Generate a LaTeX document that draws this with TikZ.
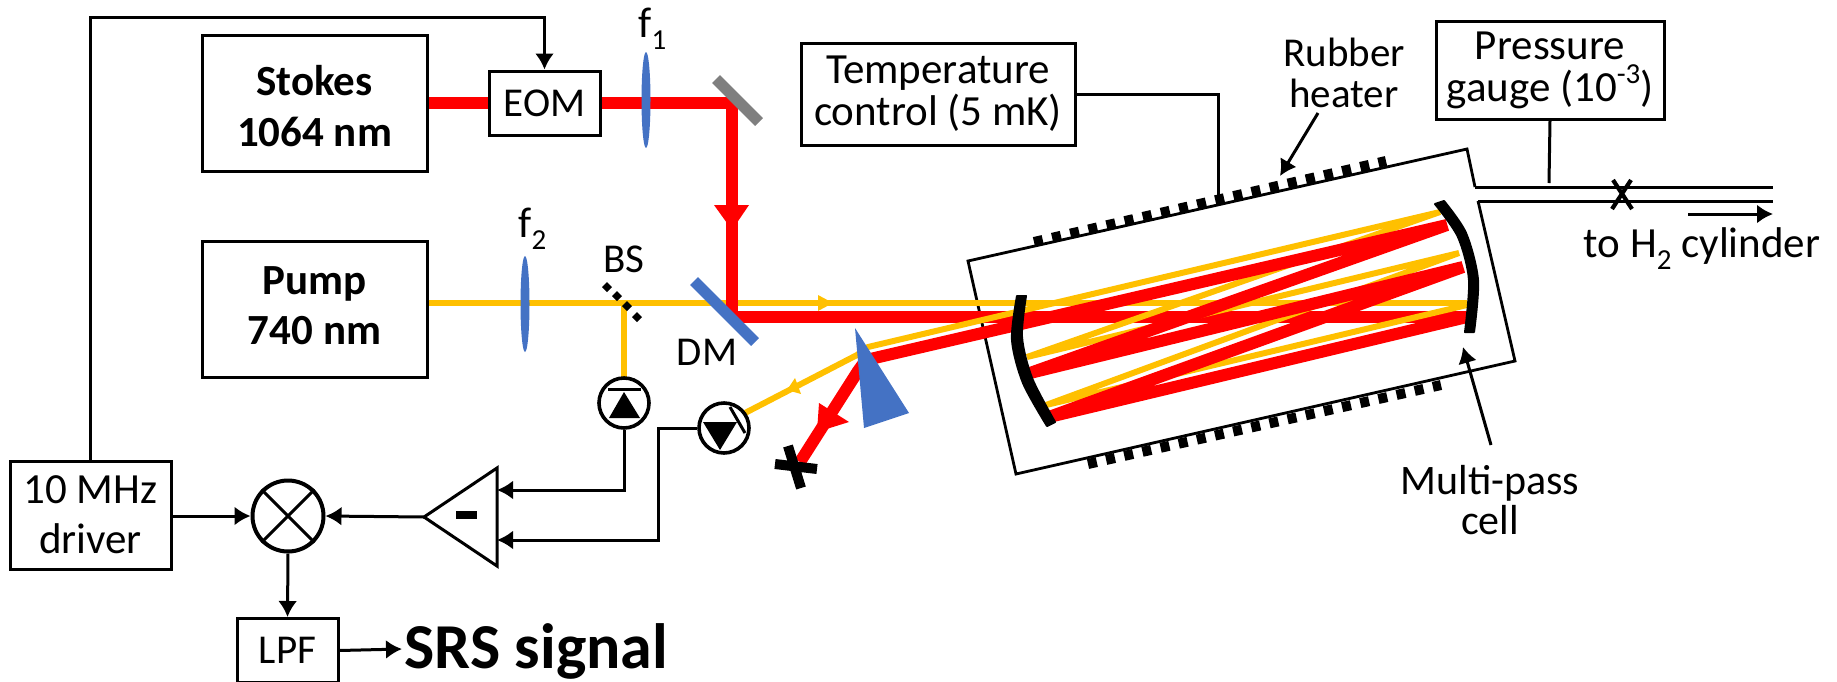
\documentclass[tikz,border=0pt]{standalone}
\usepackage{fontspec}
\setmainfont{Carlito}
\usetikzlibrary{arrows.meta}
\definecolor{rbeam}{HTML}{FF0000}
\definecolor{ybeam}{HTML}{FFC000}
\definecolor{optblue}{HTML}{4472C4}
\definecolor{optgray}{HTML}{7F7F7F}
\newcommand\subs[1]{\raisebox{-.28em}{\fontsize{14.5}{14.5}\selectfont #1}}
\newcommand\sups[1]{\raisebox{.42em}{\fontsize{14.5}{14.5}\selectfont #1}}
\tikzset{
  x=.5pt,y=-.5pt,
  txt/.style={inner sep=0pt,align=center,font=\fontsize{21.5}{21}\selectfont},
  box/.style={draw,line width=1.5pt,inner sep=0pt,align=center,font=\fontsize{21.5}{21}\selectfont},
  conn/.style={line width=1.5pt},
  arr/.style={conn,-{Latex[length=8pt,width=9.5pt]}},
  redbeam/.style={draw=rbeam,line width=6pt,line join=bevel},
  yelbeam/.style={draw=ybeam,line width=3pt,line join=bevel},
  heater/.style={line width=5pt,dash pattern=on 4.5pt off 4.8pt},
  det/.style={circle,draw,line width=1.8pt,minimum size=25pt,inner sep=0pt,fill=white},
  mirrorc/.style={draw,fill,line width=1pt,line join=round},
}
\begin{document}
\begin{tikzpicture}
\useasboundingbox (0,0) rectangle (1837,681);
% boxes
\node[box,minimum width=112.5pt,minimum height=68pt] (stokes) at (314.5,103) {};
\node[txt,font=\fontsize{21.5}{25.5}\selectfont\bfseries] (stokestxt) at (314.5,106) {Stokes\\1064 nm};
\node[box,minimum width=112.5pt,minimum height=68pt] (pump) at (314.5,309.5) {};
\node[txt,font=\fontsize{21.5}{25}\selectfont\bfseries] (pumptxt) at (314.5,306) {Pump\\740 nm};
\node[box,minimum width=55.5pt,minimum height=32pt,font=\fontsize{20.5}{21}\selectfont] (eom) at (544.5,103) {EOM};
\node[box,minimum width=137pt,minimum height=51pt] (temp) at (938,94) {Temperature\\control (5 mK)};
\node[box,minimum width=114pt,minimum height=49pt] (gauge) at (1550,70) {Pressure\\gauge (10\sups{-3})};
\node[box,minimum width=80.5pt,minimum height=54pt,font=\fontsize{21.5}{25}\selectfont] (driver) at (90.5,515) {10 MHz\\driver};
\node[box,minimum width=50.5pt,minimum height=32pt,anchor=north,font=\fontsize{20.5}{21}\selectfont] (lpf) at (287.5,617) {LPF};
\node[circle,draw,line width=2pt,minimum size=35.5pt,inner sep=0pt] (mixer) at (288,516) {};
\draw[line width=1.5pt] (mixer.45)--(mixer.225) (mixer.135)--(mixer.315);
% named points
\coordinate (top) at (300,17);
\coordinate (bend) at (732,103);
\coordinate (dmhit) at (732,317);
\coordinate (yend) at (1467,305);
\coordinate (rend) at (1467,317);
\coordinate (ampout) at (424,517);
\coordinate (ampa) at (497,468);
\coordinate (ampb) at (497,566);
\coordinate (ampin1) at (497,490);
\coordinate (ampin2) at (497,540);
\coordinate (bsp) at (624,303);
% cell
\draw[line width=1.4pt,line join=miter] (1475,187)--(1467,149)--(968,261)--(1016,474)--(1515,361)--(1478,201);
\draw[line width=1.5pt] (1475,187)--(1773,187) (1478,201)--(1773,201);
\draw[heater] (1034,242)--(1386,161);
\draw[heater] (1088,464)--(1441,385);
% beams
\draw[yelbeam] (pump.east|-bsp)--(1467,303);
\draw[yelbeam] (bsp)--(624,378);
\draw[redbeam] (stokes.east|-eom)--(eom.west);
\draw[redbeam] (eom.east)--(bend)--(dmhit)--(rend);
\fill[rbeam] (714,205)--(749,205)--(732,230)--cycle;
\fill[ybeam] (818,295)--(833,303)--(818,311)--cycle;
\draw[yelbeam] (745,413)--(857,355)--(868,347)--(1440,212)--(1027,357)--(1459,253)--(1046,405)--(yend);
\draw[redbeam] (866,360)--(1447,225)--(1030,373)--(1463,267)--(1049,417)--(rend);
\draw[redbeam] (866,360)--(858,371)--(800,462);
\fill[rbeam] (819,403)--(849,422)--(817,432)--cycle;
\fill[ybeam] (787,390)--(795,378)--(801,394)--cycle;
\draw[line width=5pt] (788,446)--(801,488) (775,464)--(817,469);
% optics
\fill[optblue] (646,100) ellipse [x radius=4.5,y radius=48];
\fill[optblue] (525,304) ellipse [x radius=4.5,y radius=48];
\draw[optgray,line width=5.5pt] (716,79)--(759,122);
\draw[optblue,line width=5.5pt] (694,281)--(755,342);
\fill[optblue] (855,328)--(909,413)--(864,428)--cycle;
\foreach \p in {(607,287),(617,296),(627,306),(637,317)}{
  \fill \p +(-5,0)--+(0,-5)--+(5,0)--+(0,5)--cycle;
}
\path[mirrorc] plot[smooth] coordinates {(1017,296) (1012,340) (1023,383) (1047,426)} -- plot[smooth] coordinates {(1055,422) (1032,378) (1022,337) (1026,296)} -- cycle;
\path[mirrorc] plot[smooth] coordinates {(1444,201) (1466,233) (1478,280) (1474,332)} -- plot[smooth] coordinates {(1465,332) (1469,280) (1458,237) (1435,204)} -- cycle;
% detectors
\node[det] (det1) at (624,403) {};
\fill (609,418)--(640,418)--(624,392)--cycle;
\draw[line width=1.5pt] (608,389)--(641,389);
\node[det] (det2) at (724,428) {};
\fill (703,422)--(737,422)--(720,450)--cycle;
\draw[line width=1.5pt] (730,407)--(745,433);
% amplifier
\draw[line width=1.5pt,line join=miter] (ampout)--(ampa)--(ampb)--cycle;
\draw[line width=4pt] (456,515)--(477,515);
% connectors
\draw[arr] (driver.north)|-(top)-|(eom.north);
\draw[arr] (driver.east|-mixer)--(mixer.west);
\draw[arr] (ampout)--(mixer.east);
\draw[arr] (mixer.south)--(lpf.north);
\draw[arr] (lpf.east)--(402,649);
\draw[arr] (det1.south)|-(ampin1);
\draw[arr] (det2.west)-|(658,540)--(ampin2);
\draw[conn] (temp.east)-|(1218,195);
\draw[conn] (gauge.south)--(1549,183);
\draw[arr] (1318,113)--(1280,176);
\draw[arr] (1491,445)--(1463,347);
\draw[arr] (1688,214)--(1773,214);
\draw[line width=2.1pt] (1613,180)--(1632,209) (1631,180)--(1612,209);
% labels
\node[txt,anchor=base west] (lf1) at (638,37) {f\subs{1}};
\node[txt,anchor=base west] (lf2) at (518,237) {f\subs{2}};
\node[txt,anchor=base,font=\fontsize{20.5}{21}\selectfont] (lbs) at (624,272) {BS};
\node[txt,anchor=base,font=\fontsize{20.5}{21}\selectfont] (ldm) at (707,365) {DM};
\node[txt,font=\fontsize{20.5}{20.5}\selectfont] (lrub) at (1344,73) {Rubber\\heater};
\node[txt,font=\fontsize{21}{20}\selectfont] (lmp) at (1490,500) {Multi-pass\\cell};
\node[txt,anchor=base] (lh2) at (1702,257) {to H\subs{2} cylinder};
\node[txt,anchor=base west,font=\fontsize{32}{32}\selectfont\bfseries] (srs) at (404,668) {SRS signal};
\end{tikzpicture}
\end{document}
